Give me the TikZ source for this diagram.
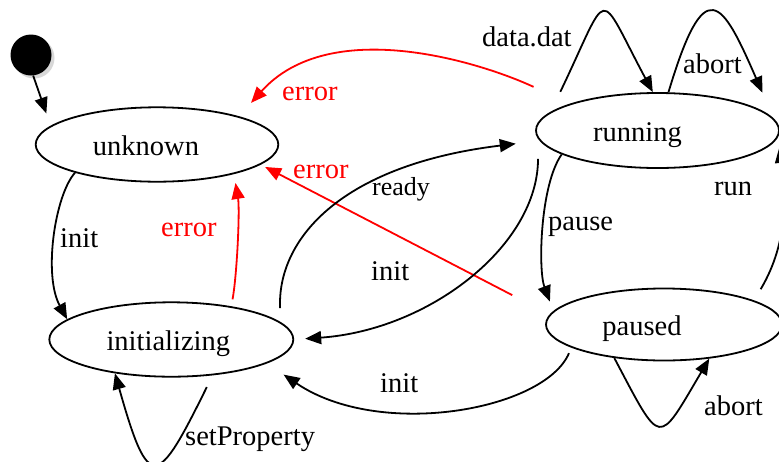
\documentclass[tikz,border=0pt]{standalone}
\usepackage{fontspec}
\setmainfont{Liberation Serif}
\usetikzlibrary{shapes.geometric,arrows.meta,shadows}
\newcommand\mainfs{\fontsize{28.5pt}{34pt}\selectfont}
\newcommand\readyfs{\fontsize{26pt}{31pt}\selectfont}
\begin{document}
\begin{tikzpicture}[x=1pt,y=-1pt,
  state/.style={draw, ellipse, line width=1.8pt, inner sep=0pt, text height=22pt, text depth=0pt, font=\mainfs},
  edge/.style={line width=1.8pt, -{Triangle[length=16pt,width=13pt]}},
  lbl/.style={anchor=base west, inner sep=0pt, font=\mainfs}]
\fill[white] (0,0) rectangle (779,461);
\useasboundingbox (0,0) rectangle (779,461);

\node[circle, fill=black, minimum size=41pt, inner sep=0pt,
      drop shadow={shadow xshift=3pt, shadow yshift=-3pt, fill=black!30}] (start) at (31,55) {};
\node[state, minimum width=242.6pt, minimum height=74.4pt] (unknown) at (157,144.5) {unknown\hspace*{22pt}};
\node[state, minimum width=244pt, minimum height=74.4pt] (initializing) at (171.3,339.5) {initializing\hspace*{6pt}};
\node[state, minimum width=243pt, minimum height=75pt] (running) at (657.5,130.5) {running\hspace*{40pt}};
\node[state, minimum width=236pt, minimum height=72pt] (paused) at (664,324.5) {paused\hspace*{44pt}};

\draw[edge,shorten >=13pt] (start.-84) -- (unknown.170);
\draw[edge] (unknown.199.3) .. controls (55,195) and (43,275) .. (initializing.169.5);
\draw[edge,red,shorten <=7pt,shorten >=9pt] (initializing.29.6) .. controls (237,275) and (240,210) .. (unknown.-21.1);
\draw[edge,red,shorten <=40pt,shorten >=18pt] (running.163) .. controls (480,62) and (330,15) .. (unknown.19.5);
\draw[edge,red,shorten <=42pt,shorten >=5pt] (paused.175) -- (unknown.-11.6);
\draw[edge,shorten <=14pt,shorten >=24pt] (initializing.9.6) .. controls (277,240) and (340,165) .. (running.185.4);
\draw[edge,shorten <=20pt,shorten >=11pt] (running.184) .. controls (538,245) and (430,330) .. (initializing.-0.5);
\draw[edge,shorten <=6pt,shorten >=20pt] (paused.194) .. controls (545,410) and (380,440) .. (initializing.-14.6);
\draw[edge,shorten >=10pt] (running.194.5) .. controls (540,185) and (538,270) .. (paused.173.3);
\draw[edge,shorten <=13pt,shorten >=10pt] (paused.15.3) .. controls (790,240) and (785,190) .. (running.-3.4);
\draw[edge,shorten <=22pt] (running.170.8) .. controls (611,-14) and (596,-14) .. (running.97.7);
\draw[edge,shorten >=28pt] (running.74.9) .. controls (705,-30) and (722,0) .. (running.6.2);
\draw[edge] (paused.214.8) .. controls (662,448) and (657,447) .. (paused.-37.7);
\draw[edge,shorten <=13pt] (initializing.-41) .. controls (157,488) and (149,494) .. (initializing.211.3);

\node[lbl] (lInit1) at (60,247) {init};
\node[lbl,red] (lErr1) at (161,236) {error};
\node[lbl,red] (lErr2) at (282,100) {error};
\node[lbl,red] (lErr3) at (293,178) {error};
\node[lbl,font=\readyfs] (lReady) at (372,195) {ready};
\node[lbl] (lInit2) at (371,280) {init};
\node[lbl] (lInit3) at (380,392) {init};
\node[lbl] (lPause) at (548,230) {pause};
\node[lbl] (lRun) at (714,195) {run};
\node[lbl] (lData) at (482,46) {data.dat};
\node[lbl] (lAbort1) at (683,73) {abort};
\node[lbl] (lAbort2) at (704,415) {abort};
\node[lbl] (lSet) at (185,445) {setProperty};
\end{tikzpicture}
\end{document}
